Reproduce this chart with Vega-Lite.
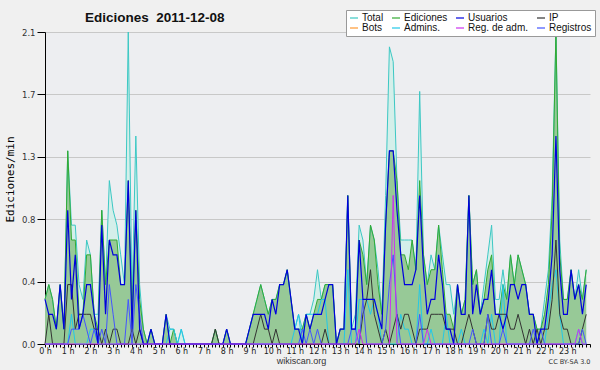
{
"$schema": "https://vega.github.io/schema/vega-lite/v6.json",
"width": 545, "height": 312,
"autosize": {"type": "none"},
"padding": {"left": 45, "top": 32, "right": 10, "bottom": 26},
"background": "#f0f0f0",
"config": {"view": {"fill": "#edeef1", "stroke": null}, "font": "DejaVu Sans"},
"title": {"text": "Ediciones\u00a0 2011-12-08", "anchor": "start", "frame": "group", "dx": 40, "dy": 37, "offset": 11, "baseline": "alphabetic", "font": "Liberation Sans", "fontSize": 13.5, "fontWeight": "bold", "color": "#111"},
"data": {"values": [
{"b":0,"T":0.3,"E":0.3,"U":0.3,"I":0,"A":0,"R":0,"M":0},
{"b":1,"T":0.4,"E":0.4,"U":0.2,"I":0.2,"A":0,"R":0,"M":0},
{"b":2,"T":0.3,"E":0.3,"U":0.2,"I":0,"A":0,"R":0,"M":0},
{"b":3,"T":0.1,"E":0.1,"U":0.1,"I":0,"A":0,"R":0,"M":0},
{"b":4,"T":0.4,"E":0.4,"U":0.4,"I":0,"A":0,"R":0,"M":0},
{"b":5,"T":0.1,"E":0.1,"U":0.1,"I":0,"A":0,"R":0,"M":0},
{"b":6,"T":1.3,"E":1.3,"U":0.9,"I":0.4,"A":0,"R":0,"M":0},
{"b":7,"T":0.8,"E":0.7,"U":0.3,"I":0.4,"A":0.2,"R":0.1,"M":0},
{"b":8,"T":0.8,"E":0.7,"U":0.6,"I":0.1,"A":0,"R":0.1,"M":0},
{"b":9,"T":0.4,"E":0.2,"U":0.1,"I":0.2,"A":0,"R":0.1,"M":0},
{"b":10,"T":0.3,"E":0.2,"U":0.2,"I":0.2,"A":0,"R":0.2,"M":0},
{"b":11,"T":0.7,"E":0.6,"U":0.4,"I":0.2,"A":0,"R":0.1,"M":0},
{"b":12,"T":0.6,"E":0.6,"U":0.4,"I":0.2,"A":0.1,"R":0,"M":0},
{"b":13,"T":0.2,"E":0.2,"U":0.2,"I":0.1,"A":0.1,"R":0.1,"M":0},
{"b":14,"T":0.2,"E":0.1,"U":0,"I":0.1,"A":0,"R":0,"M":0},
{"b":15,"T":0.9,"E":0.9,"U":0.8,"I":0,"A":0,"R":0.1,"M":0},
{"b":16,"T":0.4,"E":0.4,"U":0.2,"I":0.1,"A":0,"R":0,"M":0},
{"b":17,"T":1.1,"E":0.7,"U":0.7,"I":0,"A":0,"R":0.4,"M":0},
{"b":18,"T":0.9,"E":0.7,"U":0.6,"I":0.1,"A":0,"R":0.2,"M":0},
{"b":19,"T":0.8,"E":0.7,"U":0.6,"I":0.1,"A":0,"R":0,"M":0},
{"b":20,"T":0.6,"E":0.4,"U":0.4,"I":0,"A":0,"R":0,"M":0},
{"b":21,"T":0.4,"E":0.4,"U":0.4,"I":0,"A":0,"R":0,"M":0},
{"b":22,"T":2.1,"E":1.1,"U":1.1,"I":0,"A":0,"R":0.3,"M":0},
{"b":23,"T":0.3,"E":0.2,"U":0.1,"I":0.1,"A":0,"R":0,"M":0},
{"b":24,"T":1.4,"E":0.9,"U":0.9,"I":0,"A":0,"R":0.4,"M":0},
{"b":25,"T":0.4,"E":0.3,"U":0.1,"I":0.1,"A":0,"R":0.2,"M":0},
{"b":26,"T":0.1,"E":0.1,"U":0,"I":0,"A":0,"R":0,"M":0},
{"b":27,"T":0,"E":0,"U":0,"I":0,"A":0,"R":0,"M":0},
{"b":28,"T":0.1,"E":0.1,"U":0.1,"I":0,"A":0,"R":0,"M":0},
{"b":29,"T":0,"E":0,"U":0,"I":0,"A":0,"R":0,"M":0},
{"b":30,"T":0,"E":0,"U":0,"I":0,"A":0,"R":0,"M":0},
{"b":31,"T":0,"E":0,"U":0,"I":0,"A":0,"R":0,"M":0},
{"b":32,"T":0.2,"E":0.2,"U":0.2,"I":0,"A":0,"R":0,"M":0},
{"b":33,"T":0.1,"E":0,"U":0,"I":0,"A":0.1,"R":0,"M":0},
{"b":34,"T":0.1,"E":0.1,"U":0,"I":0,"A":0.1,"R":0,"M":0},
{"b":35,"T":0,"E":0,"U":0,"I":0,"A":0,"R":0,"M":0},
{"b":36,"T":0.1,"E":0,"U":0,"I":0,"A":0.1,"R":0,"M":0},
{"b":37,"T":0,"E":0,"U":0,"I":0,"A":0,"R":0,"M":0},
{"b":38,"T":0,"E":0,"U":0,"I":0,"A":0,"R":0,"M":0},
{"b":39,"T":0,"E":0,"U":0,"I":0,"A":0,"R":0,"M":0},
{"b":40,"T":0,"E":0,"U":0,"I":0,"A":0,"R":0,"M":0},
{"b":41,"T":0,"E":0,"U":0,"I":0,"A":0,"R":0,"M":0},
{"b":42,"T":0,"E":0,"U":0,"I":0,"A":0,"R":0,"M":0},
{"b":43,"T":0,"E":0,"U":0,"I":0,"A":0,"R":0,"M":0},
{"b":44,"T":0,"E":0,"U":0,"I":0,"A":0,"R":0,"M":0},
{"b":45,"T":0.1,"E":0.1,"U":0,"I":0.1,"A":0,"R":0,"M":0},
{"b":46,"T":0,"E":0,"U":0,"I":0,"A":0,"R":0,"M":0},
{"b":47,"T":0,"E":0,"U":0,"I":0,"A":0,"R":0,"M":0},
{"b":48,"T":0.1,"E":0.1,"U":0.1,"I":0,"A":0,"R":0,"M":0},
{"b":49,"T":0,"E":0,"U":0,"I":0,"A":0,"R":0,"M":0},
{"b":50,"T":0,"E":0,"U":0,"I":0,"A":0,"R":0,"M":0},
{"b":51,"T":0,"E":0,"U":0,"I":0,"A":0,"R":0,"M":0},
{"b":52,"T":0,"E":0,"U":0,"I":0,"A":0,"R":0,"M":0},
{"b":53,"T":0,"E":0,"U":0,"I":0,"A":0,"R":0,"M":0},
{"b":54,"T":0.1,"E":0.1,"U":0.1,"I":0,"A":0,"R":0,"M":0},
{"b":55,"T":0.2,"E":0.2,"U":0.2,"I":0,"A":0,"R":0,"M":0},
{"b":56,"T":0.3,"E":0.3,"U":0.2,"I":0.1,"A":0,"R":0,"M":0},
{"b":57,"T":0.4,"E":0.4,"U":0.2,"I":0.2,"A":0,"R":0,"M":0},
{"b":58,"T":0.3,"E":0.3,"U":0.2,"I":0.1,"A":0,"R":0,"M":0},
{"b":59,"T":0.2,"E":0.2,"U":0.1,"I":0.1,"A":0,"R":0,"M":0},
{"b":60,"T":0.3,"E":0.3,"U":0.3,"I":0,"A":0,"R":0,"M":0},
{"b":61,"T":0.3,"E":0.3,"U":0.2,"I":0.1,"A":0,"R":0,"M":0},
{"b":62,"T":0.4,"E":0.4,"U":0.4,"I":0,"A":0,"R":0,"M":0},
{"b":63,"T":0.4,"E":0.4,"U":0.4,"I":0,"A":0,"R":0,"M":0},
{"b":64,"T":0.5,"E":0.5,"U":0.5,"I":0,"A":0,"R":0,"M":0},
{"b":65,"T":0.3,"E":0.3,"U":0.3,"I":0,"A":0,"R":0,"M":0},
{"b":66,"T":0.1,"E":0.1,"U":0.1,"I":0,"A":0.1,"R":0,"M":0},
{"b":67,"T":0.2,"E":0.1,"U":0.1,"I":0,"A":0.2,"R":0,"M":0},
{"b":68,"T":0.1,"E":0.1,"U":0,"I":0,"A":0,"R":0.1,"M":0},
{"b":69,"T":0.2,"E":0.2,"U":0.2,"I":0,"A":0.2,"R":0,"M":0},
{"b":70,"T":0.2,"E":0.1,"U":0.1,"I":0,"A":0.2,"R":0.1,"M":0},
{"b":71,"T":0.3,"E":0.2,"U":0.2,"I":0,"A":0.2,"R":0,"M":0},
{"b":72,"T":0.5,"E":0.3,"U":0.2,"I":0,"A":0.2,"R":0.1,"M":0},
{"b":73,"T":0.3,"E":0.3,"U":0.2,"I":0,"A":0.3,"R":0,"M":0},
{"b":74,"T":0.4,"E":0.4,"U":0.3,"I":0.1,"A":0.3,"R":0,"M":0},
{"b":75,"T":0.4,"E":0.4,"U":0.4,"I":0,"A":0,"R":0,"M":0},
{"b":76,"T":0.4,"E":0.4,"U":0.4,"I":0,"A":0,"R":0,"M":0},
{"b":77,"T":0,"E":0,"U":0,"I":0,"A":0,"R":0,"M":0},
{"b":78,"T":0.1,"E":0.1,"U":0.1,"I":0,"A":0,"R":0,"M":0},
{"b":79,"T":0.1,"E":0.1,"U":0.1,"I":0,"A":0,"R":0,"M":0},
{"b":80,"T":1.0,"E":1.0,"U":1.0,"I":0,"A":0.5,"R":0,"M":0},
{"b":81,"T":0.1,"E":0.1,"U":0.1,"I":0,"A":0,"R":0.1,"M":0},
{"b":82,"T":0.2,"E":0.1,"U":0.1,"I":0,"A":0,"R":0.1,"M":0},
{"b":83,"T":0.8,"E":0.7,"U":0.7,"I":0,"A":0.3,"R":0,"M":0.1},
{"b":84,"T":0.7,"E":0.6,"U":0.3,"I":0.2,"A":0.3,"R":0.3,"M":0},
{"b":85,"T":0.4,"E":0.4,"U":0.3,"I":0.3,"A":0.3,"R":0,"M":0},
{"b":86,"T":0.8,"E":0.8,"U":0.3,"I":0.5,"A":0.2,"R":0,"M":0},
{"b":87,"T":0.7,"E":0.7,"U":0.3,"I":0.2,"A":0.3,"R":0,"M":0},
{"b":88,"T":0.5,"E":0.4,"U":0.2,"I":0.1,"A":0.2,"R":0,"M":0},
{"b":89,"T":0.2,"E":0.2,"U":0.1,"I":0,"A":0,"R":0,"M":0},
{"b":90,"T":1.0,"E":0.8,"U":0.8,"I":0.1,"A":0,"R":0.1,"M":0},
{"b":91,"T":2.0,"E":1.3,"U":1.3,"I":0,"A":0,"R":0.4,"M":0},
{"b":92,"T":1.9,"E":1.3,"U":1.3,"I":0.1,"A":0,"R":0.6,"M":1.0},
{"b":93,"T":1.1,"E":1.1,"U":0.9,"I":0.2,"A":0,"R":0.2,"M":0},
{"b":94,"T":0.7,"E":0.6,"U":0.6,"I":0.1,"A":0.2,"R":0,"M":0},
{"b":95,"T":0.7,"E":0.6,"U":0.4,"I":0.2,"A":0.1,"R":0,"M":0},
{"b":96,"T":0.7,"E":0.5,"U":0.4,"I":0.2,"A":0.1,"R":0,"M":0},
{"b":97,"T":0.7,"E":0.7,"U":0.4,"I":0.1,"A":0,"R":0,"M":0},
{"b":98,"T":0.5,"E":0.5,"U":0.5,"I":0,"A":0,"R":0,"M":0},
{"b":99,"T":1.7,"E":1.1,"U":1.0,"I":0.1,"A":0.4,"R":0.2,"M":0},
{"b":100,"T":0.6,"E":0.6,"U":0.5,"I":0.1,"A":0,"R":0,"M":0},
{"b":101,"T":0.4,"E":0.4,"U":0.2,"I":0.1,"A":0,"R":0,"M":0.1},
{"b":102,"T":0.6,"E":0.5,"U":0.3,"I":0.2,"A":0.1,"R":0,"M":0},
{"b":103,"T":0.5,"E":0.5,"U":0.3,"I":0.2,"A":0,"R":0,"M":0},
{"b":104,"T":0.8,"E":0.8,"U":0.6,"I":0.2,"A":0,"R":0,"M":0},
{"b":105,"T":0.6,"E":0.5,"U":0.4,"I":0.2,"A":0,"R":0,"M":0},
{"b":106,"T":0.4,"E":0.2,"U":0.1,"I":0.1,"A":0.2,"R":0,"M":0},
{"b":107,"T":0.4,"E":0.2,"U":0.1,"I":0.1,"A":0,"R":0,"M":0},
{"b":108,"T":0.2,"E":0.1,"U":0,"I":0.1,"A":0,"R":0,"M":0},
{"b":109,"T":0.4,"E":0.4,"U":0.4,"I":0,"A":0,"R":0,"M":0},
{"b":110,"T":0.2,"E":0.2,"U":0.2,"I":0,"A":0.1,"R":0,"M":0},
{"b":111,"T":0.3,"E":0.3,"U":0.2,"I":0.1,"A":0,"R":0,"M":0},
{"b":112,"T":1.0,"E":1.0,"U":1.0,"I":0.2,"A":0,"R":0,"M":0},
{"b":113,"T":0.4,"E":0.4,"U":0.2,"I":0.1,"A":0,"R":0.1,"M":0},
{"b":114,"T":0.5,"E":0.5,"U":0.4,"I":0,"A":0,"R":0,"M":0},
{"b":115,"T":0.2,"E":0.2,"U":0.2,"I":0,"A":0,"R":0,"M":0},
{"b":116,"T":0.4,"E":0.3,"U":0.3,"I":0,"A":0.1,"R":0,"M":0},
{"b":117,"T":0.6,"E":0.5,"U":0.3,"I":0.2,"A":0,"R":0.2,"M":0},
{"b":118,"T":0.8,"E":0.6,"U":0.5,"I":0.1,"A":0.2,"R":0,"M":0},
{"b":119,"T":0.3,"E":0.2,"U":0.2,"I":0.1,"A":0,"R":0,"M":0},
{"b":120,"T":0.3,"E":0.2,"U":0.2,"I":0.2,"A":0,"R":0,"M":0},
{"b":121,"T":0.5,"E":0.4,"U":0.1,"I":0.2,"A":0.4,"R":0.1,"M":0},
{"b":122,"T":0.3,"E":0.3,"U":0.2,"I":0.2,"A":0,"R":0,"M":0},
{"b":123,"T":0.6,"E":0.6,"U":0.4,"I":0.1,"A":0,"R":0,"M":0},
{"b":124,"T":0.4,"E":0.4,"U":0.4,"I":0.1,"A":0,"R":0,"M":0},
{"b":125,"T":0.6,"E":0.6,"U":0.3,"I":0.2,"A":0,"R":0,"M":0},
{"b":126,"T":0.5,"E":0.5,"U":0.4,"I":0.1,"A":0,"R":0,"M":0},
{"b":127,"T":0.4,"E":0.4,"U":0.4,"I":0,"A":0,"R":0,"M":0},
{"b":128,"T":0.2,"E":0.2,"U":0.2,"I":0.1,"A":0,"R":0,"M":0},
{"b":129,"T":0.2,"E":0.2,"U":0.2,"I":0,"A":0,"R":0.1,"M":0},
{"b":130,"T":0.1,"E":0.1,"U":0,"I":0.1,"A":0,"R":0,"M":0},
{"b":131,"T":0.1,"E":0.1,"U":0.1,"I":0,"A":0,"R":0.1,"M":0},
{"b":132,"T":0.3,"E":0.2,"U":0.1,"I":0.1,"A":0,"R":0,"M":0},
{"b":133,"T":0.5,"E":0.4,"U":0.3,"I":0.1,"A":0.2,"R":0,"M":0},
{"b":134,"T":1.0,"E":0.9,"U":0.6,"I":0.3,"A":0.4,"R":0,"M":0},
{"b":135,"T":2.1,"E":2.1,"U":1.4,"I":0.7,"A":0.5,"R":0,"M":0},
{"b":136,"T":0.7,"E":0.6,"U":0.5,"I":0.2,"A":0.2,"R":0,"M":0},
{"b":137,"T":0.3,"E":0.3,"U":0.2,"I":0.1,"A":0,"R":0,"M":0},
{"b":138,"T":0.3,"E":0.3,"U":0.2,"I":0.1,"A":0,"R":0,"M":0},
{"b":139,"T":0.5,"E":0.5,"U":0.5,"I":0,"A":0,"R":0,"M":0},
{"b":140,"T":0.3,"E":0.3,"U":0.3,"I":0,"A":0,"R":0,"M":0},
{"b":141,"T":0.5,"E":0.4,"U":0.4,"I":0,"A":0.1,"R":0,"M":0.1},
{"b":142,"T":0.3,"E":0.3,"U":0.2,"I":0.1,"A":0,"R":0.1,"M":0},
{"b":143,"T":0.5,"E":0.5,"U":0.4,"I":0.2,"A":0,"R":0,"M":0}
]},
"resolve": {"axis": {"x": "independent"}},
"layer": [
{
"encoding": {"x": {"field": "b", "type": "quantitative", "scale": {"domain": [0, 144], "nice": false, "zero": false},
  "axis": {"orient": "bottom", "title": "wikiscan.org", "titleFont": "Liberation Sans", "titleFontSize": 9, "titleFontWeight": "normal", "titleColor": "#333", "titleX": 256, "titleY": 19, "titleAlign": "center", "titleBaseline": "alphabetic",
    "tickCount": 144, "grid": false, "domainColor": "#000", "tickColor": "#000", "tickSize": 3, "labelPadding": 0, "labelFontSize": 8, "labelColor": "#222", "labelOverlap": false, "labelBound": false, "labelFlush": false,
    "labelExpr": "datum.value % 6 === 0 && datum.value < 144 ? (datum.value / 6) + ' h' : ''"}}},
"layer": [
{"mark": {"type": "area", "color": "#d4efea", "interpolate": "linear"},
 "encoding": {"y": {"field": "T", "type": "quantitative", "scale": {"domain": [0, 2.1], "nice": false, "zero": true},
   "axis": {"title": "Ediciones/min", "titleFont": "DejaVu Sans Mono", "titleFontSize": 11, "titleFontWeight": "normal", "titleColor": "#000", "titleX": -35, "titleY": 147, "titleAlign": "center", "titleBaseline": "middle", "titleAngle": -90,
     "values": [0, 0.21, 0.42, 0.63, 0.84, 1.05, 1.26, 1.47, 1.68, 1.89, 2.1],
     "labelExpr": "round(datum.value * 100) % 42 == 0 ? format(datum.value, '.1f') : ''",
     "tickSize": {"condition": {"test": "round(datum.value * 100) % 42 == 0", "value": 8}, "value": 4},
     "gridOpacity": {"condition": {"test": "round(datum.value * 100) % 42 == 0", "value": 1}, "value": 0},
     "gridColor": "#c8c8c8", "domainColor": "#000", "tickColor": "#000", "labelPadding": 2, "labelFontSize": 8.5, "labelColor": "#333", "labelOverlap": false, "labelBound": false, "labelFlush": false}}}},
{"mark": {"type": "area", "color": "#97c997"},
 "encoding": {"y": {"field": "E", "type": "quantitative"}}},
{"mark": {"type": "line", "strokeWidth": 1},
 "encoding": {"y": {"field": "T", "type": "quantitative"},
   "color": {"datum": "Total", "type": "nominal",
     "scale": {"domain": ["Total", "Ediciones", "Usuarios", "IP", "Bots", "Admins.", "Reg. de adm.", "Registros"],
               "range": ["#3cc8c4", "#33aa33", "#0000dd", "#333333", "#ff9933", "#22c8e8", "#cc33ee", "#4455ff"]},
     "legend": {"title": null, "orient": "none", "legendX": 301, "legendY": -22, "columns": 4, "direction": "horizontal", "symbolType": "stroke", "symbolSize": 64, "symbolStrokeWidth": 1.2, "labelFont": "Liberation Sans", "labelFontSize": 10, "labelColor": "#111", "labelOffset": 3, "fillColor": "#ffffff", "strokeColor": "#999999", "padding": 3, "rowPadding": 0, "columnPadding": 5, "gridAlign": "each"}}}},
{"mark": {"type": "line", "strokeWidth": 1},
 "encoding": {"y": {"field": "E", "type": "quantitative"}, "color": {"datum": "Ediciones", "type": "nominal"}}},
{"mark": {"type": "line", "strokeWidth": 1},
 "encoding": {"y": {"field": "A", "type": "quantitative"}, "color": {"datum": "Admins.", "type": "nominal"}}},
{"mark": {"type": "line", "strokeWidth": 1},
 "encoding": {"y": {"field": "I", "type": "quantitative"}, "color": {"datum": "IP", "type": "nominal"}}},
{"mark": {"type": "line", "strokeWidth": 1},
 "encoding": {"y": {"field": "R", "type": "quantitative"}, "color": {"datum": "Registros", "type": "nominal"}}},
{"mark": {"type": "line", "strokeWidth": 1.2},
 "encoding": {"y": {"field": "U", "type": "quantitative"}, "color": {"datum": "Usuarios", "type": "nominal"}}}
]},
{"mark": {"type": "line", "strokeWidth": 1},
 "encoding": {
   "x": {"field": "b", "type": "quantitative", "scale": {"domain": [0, 144], "nice": false, "zero": false},
     "axis": {"orient": "bottom", "title": "CC BY-SA 3.0", "labels": false, "ticks": false, "domain": false, "grid": false, "titleFont": "DejaVu Sans", "titleFontSize": 6.5, "titleFontWeight": "normal", "titleColor": "#333", "titleX": 545, "titleY": 19, "titleAlign": "right", "titleBaseline": "alphabetic"}},
   "y": {"field": "M", "type": "quantitative"},
   "color": {"datum": "Reg. de adm.", "type": "nominal"}}}
]
}
